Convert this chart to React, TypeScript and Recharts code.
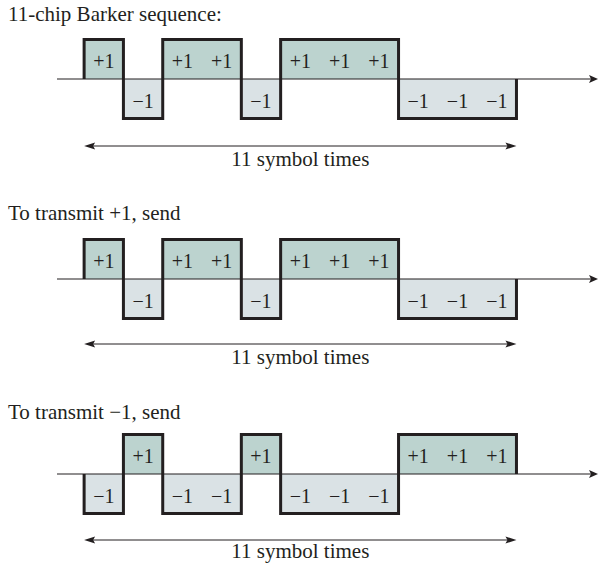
import { Area, ComposedChart, Line, ReferenceLine, Scatter, XAxis, YAxis } from "recharts";

const barker = [1, -1, 1, 1, -1, 1, 1, 1, -1, -1, -1];
const sendPlusOne = [1, -1, 1, 1, -1, 1, 1, 1, -1, -1, -1];
const sendMinusOne = [-1, 1, -1, -1, 1, -1, -1, -1, 1, 1, 1];
const titles = ["11-chip Barker sequence:", "To transmit +1, send", "To transmit \u22121, send"];
const spanLabel = "11 symbol times";

const INK = "#231f20";
const POS_FILL = "#bcd3cf";
const NEG_FILL = "#dae2e5";
const FONT = "'Liberation Serif', 'Times New Roman', serif";
const UNIT = 39.5;

const panels = [
	{ title: titles[0], chips: barker, axisY: 79, titleBase: 21.5, spanDrop: 67, labelGap: 20 },
	{ title: titles[1], chips: sendPlusOne, axisY: 279, titleBase: 221, spanDrop: 65, labelGap: 20 },
	{ title: titles[2], chips: sendMinusOne, axisY: 474, titleBase: 420, spanDrop: 66, labelGap: 18 },
];

function waveRows(chips: number[]) {
	const n = chips.length;
	const pts = [{ t: 0, v: 0 }, ...chips.map((v, i) => ({ t: i, v })), { t: n, v: chips[n - 1] }, { t: n, v: 0 }];
	return pts.map((p) => ({ ...p, pos: Math.max(p.v, 0), neg: Math.min(p.v, 0) }));
}

function labelRows(chips: number[]) {
	return chips.map((v, i) => ({ t: i + 0.5, v: v * 0.5, text: v > 0 ? "+1" : "\u22121" }));
}

const AxisArrow = (props: any) => {
	const { x1, y1, x2 } = props;
	return (
		<g>
			<line x1={x1} y1={y1} x2={x2 - 6} y2={y1} stroke={INK} strokeWidth={1.2} />
			<polygon points={`${x2 - 1},${y1} ${x2 - 10},${y1 - 4} ${x2 - 8},${y1} ${x2 - 10},${y1 + 4}`} fill={INK} />
		</g>
	);
};

const makeSpanArrow = (labelGap: number) => (props: any) => {
	const { x1, y1, x2 } = props;
	return (
		<g>
			<line x1={x1 + 4} y1={y1} x2={x2 - 4} y2={y1} stroke={INK} strokeWidth={1} />
			<polygon points={`${x1},${y1} ${x1 + 11},${y1 - 3.5} ${x1 + 9},${y1} ${x1 + 11},${y1 + 3.5}`} fill={INK} />
			<polygon points={`${x2},${y1} ${x2 - 11},${y1 - 3.5} ${x2 - 9},${y1} ${x2 - 11},${y1 + 3.5}`} fill={INK} />
			<text x={(x1 + x2) / 2} y={y1 + labelGap} textAnchor="middle" fontSize={21} fontFamily={FONT} fill={INK}>
				{spanLabel}
			</text>
		</g>
	);
};

const ChipLabel = (props: any) => (
	<text x={props.cx} y={props.cy + 2} textAnchor="middle" dominantBaseline="central" fontSize={20} fontFamily={FONT} fill={INK}>
		{props.payload.text}
	</text>
);

interface PanelProps {
	title: string;
	chips: number[];
	axisY: number;
	titleBase: number;
	spanDrop: number;
	labelGap: number;
}

function Panel({ title, chips, axisY, titleBase, spanDrop, labelGap }: PanelProps) {
	const height = 200;
	const top = axisY - 79;
	const yMax = 79 / UNIT;
	const yMin = -(height - 79) / UNIT;
	const n = chips.length;
	return (
		<>
			<div
				style={{ position: "absolute", left: 8, top: titleBase - 17.6, fontFamily: FONT, fontSize: 21, lineHeight: "21px", color: INK, whiteSpace: "nowrap" }}
			>
				{title}
			</div>
			<div style={{ position: "absolute", left: 0, top }}>
				<ComposedChart width={599} height={height} data={waveRows(chips)} margin={{ top: 0, right: 0, bottom: 0, left: 57 }}>
					<XAxis type="number" dataKey="t" domain={[-0.69, 13.1]} allowDataOverflow hide />
					<YAxis type="number" dataKey="v" domain={[yMin, yMax]} allowDataOverflow hide />
					<Area type="stepAfter" dataKey="pos" baseValue={0} fill={POS_FILL} fillOpacity={1} stroke="none" isAnimationActive={false} />
					<Area type="stepAfter" dataKey="neg" baseValue={0} fill={NEG_FILL} fillOpacity={1} stroke="none" isAnimationActive={false} />
					<ReferenceLine segment={[{ x: -0.69, y: 0 }, { x: 13.1, y: 0 }]} shape={AxisArrow} />
					<Line type="stepAfter" dataKey="v" stroke={INK} strokeWidth={3} dot={false} activeDot={false} isAnimationActive={false} />
					<Scatter data={labelRows(chips)} shape={ChipLabel} isAnimationActive={false} />
					<ReferenceLine segment={[{ x: 0, y: -spanDrop / UNIT }, { x: n, y: -spanDrop / UNIT }]} shape={makeSpanArrow(labelGap)} />
				</ComposedChart>
			</div>
		</>
	);
}

export default function App() {
	return (
		<div style={{ position: "absolute", left: 0, top: 0, width: 599, height: 564, overflow: "hidden", background: "#fff" }}>
			{panels.map((p) => (
				<Panel key={p.title} {...p} />
			))}
		</div>
	);
}
